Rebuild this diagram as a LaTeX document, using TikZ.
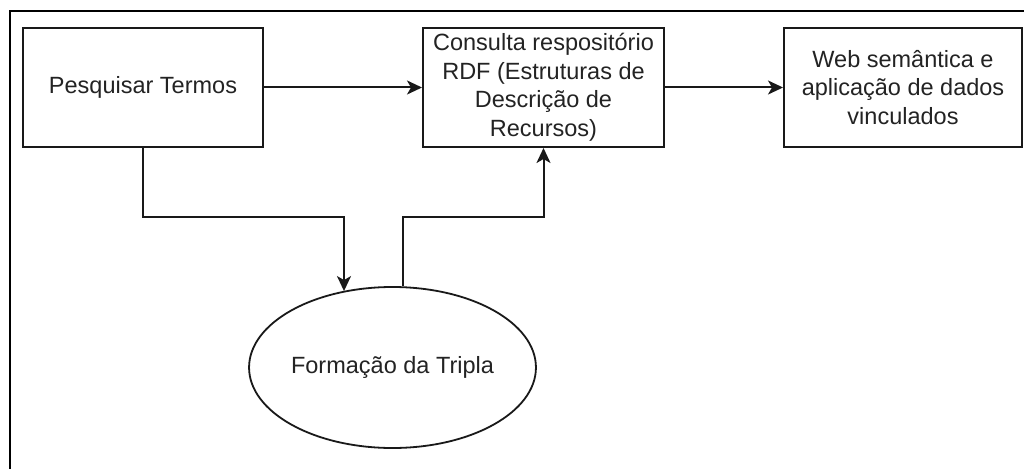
\documentclass[tikz,border=0pt]{standalone}
\usepackage{fontspec}
\setmainfont{Liberation Sans}
\usetikzlibrary{shapes.geometric,arrows.meta}
\definecolor{edgegray}{RGB}{25,25,25}
\definecolor{txtgray}{RGB}{35,35,35}
\tikzset{
  boxnode/.style={draw=edgegray, line width=2pt, rectangle, minimum height=119pt, inner sep=0pt, align=center, text=txtgray,
    font=\fontsize{23.5}{28.5}\selectfont},
  ellnode/.style={draw=edgegray, line width=1.8pt, ellipse, minimum width=261pt, minimum height=161pt, inner sep=0pt, text=txtgray,
    font=\fontsize{23.5}{28.5}\selectfont},
  conn/.style={draw=edgegray, line width=2pt, -{Stealth[length=15pt,width=14pt,inset=4pt]}},
  framestyle/.style={draw=black, line width=2.5pt}
}
\begin{document}
\begin{tikzpicture}[x=1pt,y=-1pt]
\useasboundingbox (0,0) rectangle (1024,468);
\fill[white] (0,0) rectangle (1024,468);
% outer frame (only top and left edges visible)
\draw[framestyle] (10,472) -- (10,11) -- (1030,11);

\node[boxnode, minimum width=240pt] (b1) at (143,87.5) {Pesquisar Termos};
\node[boxnode, minimum width=241pt] (b2) at (543.5,87.5) {Consulta respositório\\RDF (Estruturas de\\Descrição de\\Recursos)};
\node[boxnode, minimum width=238pt] (b3) at (903,87.5) {Web semântica e\\aplicação de dados\\vinculados};
\node[ellnode] (ell) at (392.5,367.5) {Formação da Tripla};

\coordinate (c1) at (344,217);
\coordinate (c2) at (403,217);

\draw[conn] (b1.east) -- (b2.west);
\draw[conn] (b2.east) -- (b3.west);
\draw[conn] (b1.south) |- (c1) -- (c1 |- ell.123);
\draw[conn] (c2 |- ell.north) -- (c2) -| (b2.south);
\end{tikzpicture}
\end{document}
